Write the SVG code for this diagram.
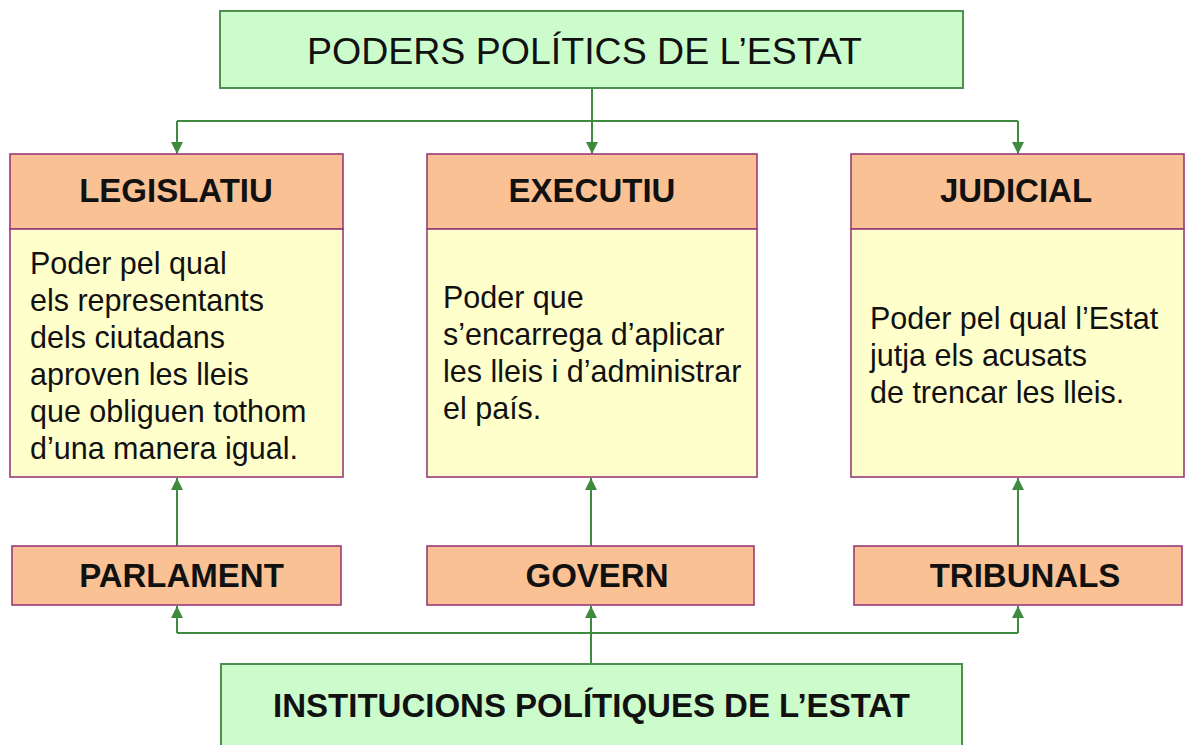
<svg xmlns="http://www.w3.org/2000/svg" width="1189" height="745" viewBox="0 0 1189 745">
<defs>
<style>
.green{fill:#ccfccc;stroke:#4f8f4f;stroke-width:2}
.head{fill:#f9c194;stroke:#9a3a78;stroke-width:1.6}
.body{fill:#ffffcc;stroke:#9a3a78;stroke-width:1.6}
.inst{fill:#f9c194;stroke:#9a3a78;stroke-width:1.6}
.t{font-family:"Liberation Sans",Arial,sans-serif;fill:#111}
.b{font-weight:bold;font-size:33px}
.r{font-size:30.5px}
.conn{fill:none;stroke:#3f8a3f;stroke-width:2}
</style>
<marker id="ah" markerWidth="12" markerHeight="12" refX="12" refY="6" orient="auto" markerUnits="userSpaceOnUse">
<path d="M0,0 L12,6 L0,12 Z" fill="#3f8a3f"/>
</marker>
</defs>
<rect width="1189" height="745" fill="#ffffff"/>

<g id="connectors" class="conn">
<path d="M592,88 V154" marker-end="url(#ah)"/>
<path d="M177,121 H1018"/>
<path d="M177,121 V154" marker-end="url(#ah)"/>
<path d="M1018,121 V154" marker-end="url(#ah)"/>
<path d="M177,546 V478" marker-end="url(#ah)"/>
<path d="M591,546 V478" marker-end="url(#ah)"/>
<path d="M1018,546 V478" marker-end="url(#ah)"/>
<path d="M591,664 V606" marker-end="url(#ah)"/>
<path d="M177,633 H1018"/>
<path d="M177,633 V606" marker-end="url(#ah)"/>
<path d="M1018,633 V606" marker-end="url(#ah)"/>
</g>

<g id="poders">
<rect class="green" x="220" y="11" width="743" height="77"/>
<text class="t" x="307" y="64" font-size="37.5">PODERS POLÍTICS DE L’ESTAT</text>
</g>

<g id="legislatiu">
<rect class="head" x="10" y="154" width="333" height="75"/>
<rect class="body" x="10" y="229" width="333" height="248"/>
<text class="t b" x="176" y="202" text-anchor="middle">LEGISLATIU</text>
<text class="t r" x="30" y="273.5">Poder pel qual</text>
<text class="t r" x="30" y="310.5">els representants</text>
<text class="t r" x="30" y="347.5">dels ciutadans</text>
<text class="t r" x="30" y="384.5">aproven les lleis</text>
<text class="t r" x="30" y="421.5">que obliguen tothom</text>
<text class="t r" x="30" y="458.5">d’una manera igual.</text>
</g>

<g id="executiu">
<rect class="head" x="427" y="154" width="330" height="75"/>
<rect class="body" x="427" y="229" width="330" height="248"/>
<text class="t b" x="592" y="202" text-anchor="middle">EXECUTIU</text>
<text class="t r" x="443" y="308">Poder que</text>
<text class="t r" x="443" y="345">s’encarrega d’aplicar</text>
<text class="t r" x="443" y="382">les lleis i d’administrar</text>
<text class="t r" x="443" y="419">el país.</text>
</g>

<g id="judicial">
<rect class="head" x="851" y="154" width="333" height="75"/>
<rect class="body" x="851" y="229" width="333" height="248"/>
<text class="t b" x="1016" y="202" text-anchor="middle">JUDICIAL</text>
<text class="t r" x="870" y="329">Poder pel qual l’Estat</text>
<text class="t r" x="870" y="366">jutja els acusats</text>
<text class="t r" x="870" y="403">de trencar les lleis.</text>
</g>

<g id="parlament">
<rect class="inst" x="12" y="546" width="329" height="59"/>
<text class="t b" x="181.5" y="587" text-anchor="middle">PARLAMENT</text>
</g>

<g id="govern">
<rect class="inst" x="427" y="546" width="327" height="59"/>
<text class="t b" x="597" y="587" text-anchor="middle">GOVERN</text>
</g>

<g id="tribunals">
<rect class="inst" x="854" y="546" width="328" height="59"/>
<text class="t b" x="1025" y="587" text-anchor="middle">TRIBUNALS</text>
</g>

<g id="institucions">
<rect class="green" x="221" y="664" width="741" height="95"/>
<text class="t b" x="591.5" y="717" text-anchor="middle">INSTITUCIONS POLÍTIQUES DE L’ESTAT</text>
</g>
</svg>
